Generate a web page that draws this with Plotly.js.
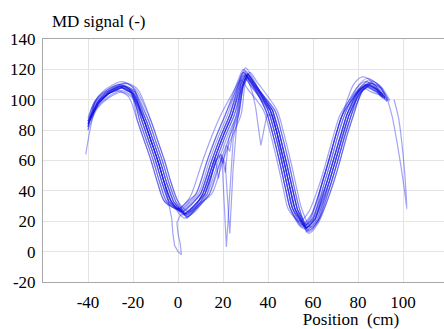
<!DOCTYPE html>
<html>
<head>
<meta charset="utf-8">
<script src="https://cdn.plot.ly/plotly-3.0.1.min.js"></script>
<style>
html,body{margin:0;padding:0;background:#fff;}
#wrap{position:relative;width:444px;height:329px;}
.ttl{position:absolute;font-family:'Liberation Serif',serif;font-size:17px;line-height:20px;color:#000;white-space:pre;}
#ytitle{left:52px;top:12px;}
#xtitle{left:251px;top:310px;width:200px;text-align:center;}
</style>
</head>
<body>
<div id="wrap">
  <div id="chart"></div>
  <div id="ytitle" class="ttl"></div>
  <div id="xtitle" class="ttl"></div>
</div>
<script>
// Tick labels and titles
const xTicks = [-40, -20, 0, 20, 40, 60, 80, 100];
const yTicks = [-20, 0, 20, 40, 60, 80, 100, 120, 140];
const xTickText = ['-40', '-20', '0', '20', '40', '60', '80', '100'];
const yTickText = ['-20', '0', '20', '40', '60', '80', '100', '120', '140'];
const xLabel = "Position  (cm)";
const yLabel = "MD signal (-)";

// Scans: position (cm) and MD signal
const s1x = [-41,-36,-31,-25,-20,-15,-12,-9,-6,-3,3,7,11,16,20,24,28,30,33,41,44,47,50,52,57,61,66,69,72,75,80,84,88,91];
const s1y = [64,97,104,108,104,86,73,60,45,33,24,29,38,60,76,90,110,116,110,93,78,60,40,28,16,22,45,60,76,90,105,110,107,101];
const s2x = [-40,-37,-32,-26,-21,-17,-14,-11,-8,-5,1,5,9,14,18,22,27,29,32,39,42,45,48,50,55,59,64,67,70,73,79,83,87,93];
const s2y = [86,99,106,110,106,86,73,60,45,33,27,32,38,60,76,90,112,118,112,93,78,60,40,28,18,24,45,60,76,90,107,112,109,100];
const s3x = [-39,-35,-30,-24,-19,-13,-10,-7,-4,-1,4,8,13,18,22,26,29,31,34,43,46,49,52,54,58,62,67,70,73,76,81,85,89,92];
const s3y = [88,98,105,109,105,86,73,60,45,33,23,28,38,60,76,90,109,115,109,93,78,60,40,28,14,20,45,60,76,90,104,109,106,102];
const s4x = [-40,-36,-31,-25,-20,-16,-13,-10,-7,-4,2,6,10,15,19,23,28,30,33,40,43,46,49,51,56,60,65,68,71,74,80,84,88,94];
const s4y = [82,101,108,112,108,86,73,60,45,33,26,31,38,60,76,90,115,121,115,93,78,60,40,28,17,23,45,60,76,90,109,114,111,99];
const s5x = [-40,-38,-33,-27,-22,-18,-15,-12,-9,-6,0,4,8,13,17,21,26,28,31,38,41,44,47,49,54,58,63,66,69,72,78,82,86,90];
const s5y = [80,95,102,106,102,86,73,60,45,33,28,33,38,60,76,90,107,113,107,93,78,60,40,28,20,26,45,60,76,90,103,108,105,103];
const s6x = [-39,-35,-30,-24,-19,-14,-11,-8,-5,-2,4,8,14,17,19.5,21.5,23,24.5,27,29,31,34,42,45,48,51,53,57,61,68,71,74,77,82,86,90,93];
const s6y = [86,99,106,110,106,86,73,60,45,33,22,27,38,52,62,3,35,74,90,111,117,111,93,78,60,40,28,13,19,45,60,76,90,106,111,108,100];
const s7x = [-40,-36,-31,-25,-20,-15,-12,-9,-6,-3,3,7,12,17,19,21,23,24.5,26,28,30,33,41,44,47,50,52,57,61,66,69,72,75,80,84,88,92];
const s7y = [84,97,104,108,104,86,73,60,45,33,25,30,38,60,64,58,12,55,82,108,114,108,93,78,60,40,28,15,21,45,60,76,90,107,112,109,101];
const s8x = [-40,-37,-32,-26,-21,-16,-13,-10,-7,-4,2,6,10,15,19,23,28,30,33,34.5,36.8,39.5,42,44,46,49,51,56,60,66,69,72,75,79,83,87,91];
const s8y = [83,98,105,109,105,86,73,60,45,33,26,31,38,60,76,90,112,118,105,95,70,90,90,78,60,40,28,16,22,45,60,76,90,105,110,107,102];
const s9x = [-40,-36,-31,-25,-20,-15,-12,-9,-6,-3,3,7,11,16,20,24,29,31,34,41,44,47,50,52,57,61,67,70,73,76,81,85,89,92,95,98,100.5,101.7,101.2,100,98,96];
const s9y = [84,98,105,109,105,86,73,60,45,33,25,30,38,60,76,90,111,117,111,93,78,60,40,28,16,22,45,60,76,90,108,113,110,104,90,66,42,28,42,64,88,100];
const s10x = [-40,-36,-31,-25,-20,-15,-12,-9,-6,-4,-2.8,-2.3,-1.5,0,1.5,1,0,-0.5,1,4,8,11,16,20,24,28,30,33,41,44,47,50,52,57,61,66,69,72,75,80,84,88,91];
const s10y = [86,97,104,108,104,86,73,60,45,32,22,12,4,0,-2,5,12,19,24,25,30,38,60,76,90,110,116,110,93,78,60,40,28,15,21,45,60,76,90,105,110,107,103];
const s11x = [-40,-37,-32,-26,-21,-17,-14,-11,-8,-5,1,5,8,13,17,21,27,29,32,39,42,45,48,50,55,59,64,67,70,73,80,84,88,92];
const s11y = [88,99,106,110,106,86,73,60,45,33,28,33,38,60,76,90,114,120,114,93,78,60,40,28,17,23,45,60,76,90,105,110,107,101];
const s12x = [-39,-35,-30,-24,-19,-13,-10,-7,-4,-1,4,8,13,15,16.5,18,19.5,21,22.5,26,28,30,33,42,45,48,51,53,58,62,67,70,73,76,81,85,89,92];
const s12y = [87,98,105,109,105,86,73,60,45,33,24,29,38,50,62,48,64,52,74,90,111,117,111,93,78,60,40,28,15,21,45,60,76,90,105,110,107,101];
const s13x = [-40,-36,-31,-25,-20,-15,-12,-9,-6,-3,3,7,12,17,21,25,29,31,34,41,44,47,50,52,58,62,68,71,74,77,80,84,88,93];
const s13y = [80,94,101,105,101,86,73,60,45,33,22,27,38,60,76,90,110,116,110,93,78,60,40,28,13,19,45,60,76,90,103,108,105,99];
const s14x = [-40,-34,-29,-23,-18,-12,-9,-6,-3,0,5,9,15,20,24,28,30,32,35,44,47,50,53,55,59,63,69,72,75,78,82,86,90,92];
const s14y = [85,100,107,111,107,86,73,60,45,33,26,31,38,60,76,90,112,118,112,93,78,60,40,28,16,22,45,60,76,90,106,111,108,103];
const s15x = [-40,-36,-31,-25,-20,-15,-12,-9,-6,-3,3,7,11,16,20,24,28,30,33,40,43,46,49,51,56,60,64,67,70,73,78,82,86,91];
const s15y = [84,97,104,108,104,86,73,60,45,33,25,30,38,60,76,90,113,119,113,93,78,60,40,28,15,21,45,60,76,90,110,115,112,101];
const s16x = [-40,-36,-31,-25,-20,-14,-11,-8,-5,-2,3,7,12,15,18,20,21.5,23,25,27,29,31,34,42,45,48,51,53,57,61,67,70,73,76,80,84,88,93];
const s16y = [83,97,104,108,104,86,73,60,45,33,25,30,38,52,64,58,70,66,84,92,109,115,109,93,78,60,40,28,16,22,45,60,76,90,104,109,106,99];
const s17x = [-38,-37,-32,-26,-21,-18,-15,-12,-9,-6,0,4,6,11,15,19,27,29,32,39,42,45,48,50,55,59,64,67,70,73,80,84,88,90];
const s17y = [91,98,105,109,105,86,73,60,45,33,28,33,38,60,76,90,112,118,112,93,78,60,40,28,16,22,45,60,76,90,105,110,107,102];
const s18x = [-40,-35,-30,-24,-19,-12,-9,-6,-3,0,4,8,14,19,23,27,29,31,34,43,46,49,52,54,58,62,69,72,75,78,82,86,90,94];
const s18y = [86,100,107,111,107,86,73,60,45,33,23,28,38,60,76,90,110,116,110,93,78,60,40,28,12,18,45,60,76,90,107,112,109,100];
const s19x = [-39,-36,-31,-25,-20,-16,-13,-10,-7,-4,2,6,10,15,19,23,27,29,32,40,43,46,49,51,57,61,65,68,71,74,79,83,87,91];
const s19y = [88,95,102,106,102,86,73,60,45,33,27,32,38,60,76,90,110,116,110,93,78,60,40,28,18,24,45,60,76,90,104,109,106,104];
const s20x = [-40,-36,-31,-25,-20,-14,-11,-8,-5,-2,4,8,12,17,21,25,29,31,34,42,45,48,51,53,58,62,68,71,74,77,81,85,89,92];
const s20y = [82,98,105,109,105,86,73,60,45,33,24,29,38,60,76,90,111,117,111,93,78,60,40,28,14,20,45,60,76,90,106,111,108,101];

const scans = [
  [s1x,s1y,'spline'],[s2x,s2y,'spline'],[s3x,s3y,'spline'],[s4x,s4y,'spline'],
  [s5x,s5y,'spline'],[s6x,s6y,'linear'],[s7x,s7y,'linear'],[s8x,s8y,'linear'],
  [s9x,s9y,'spline'],[s10x,s10y,'linear'],[s11x,s11y,'spline'],[s12x,s12y,'linear'],
  [s13x,s13y,'spline'],[s14x,s14y,'spline'],[s15x,s15y,'spline'],[s16x,s16y,'linear'],
  [s17x,s17y,'spline'],[s18x,s18y,'spline'],[s19x,s19y,'spline'],[s20x,s20y,'spline']
];

document.getElementById('ytitle').textContent = yLabel;
document.getElementById('xtitle').textContent = xLabel;

const traces = scans.map(s => ({
  x: s[0], y: s[1], type: 'scatter', mode: 'lines',
  line: {color: 'rgba(15,15,230,0.38)', width: 1.2, shape: s[2], smoothing: 0.8},
  hoverinfo: 'skip', showlegend: false
}));

const SERIF = "Liberation Serif";
const layout = {
  width: 444, height: 329,
  margin: {l: 43, r: 0, t: 39, b: 47, pad: 0},
  font: {family: SERIF, size: 17, color: '#000'},
  showlegend: false,
  xaxis: {
    range: [-60, 118.2], tickvals: xTicks, ticktext: xTickText,
    showgrid: true, gridcolor: '#e4e4e4', zeroline: false,
    showline: true, linecolor: '#a8a8a8', linewidth: 1, mirror: true,
    ticks: 'outside', ticklen: 5, tickcolor: 'rgba(0,0,0,0)',
    tickfont: {family: SERIF, size: 17, color: '#000'}
  },
  yaxis: {
    range: [-20, 140], tickvals: yTicks, ticktext: yTickText,
    showgrid: true, gridcolor: '#e4e4e4', zeroline: false,
    showline: true, linecolor: '#a8a8a8', linewidth: 1, mirror: true,
    ticks: 'outside', ticklen: 3, tickcolor: 'rgba(0,0,0,0)',
    tickfont: {family: SERIF, size: 17, color: '#000'}
  }
};

Plotly.newPlot('chart', traces, layout, {displayModeBar: false, staticPlot: true});
</script>
</body>
</html>
